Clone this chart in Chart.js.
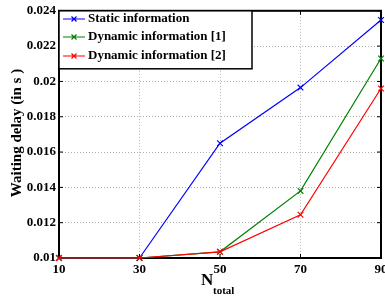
<!DOCTYPE html>
<html>
<head>
<meta charset="utf-8">
<script src="https://cdn.jsdelivr.net/npm/chart.js@4/dist/chart.umd.min.js"></script>
<style>
  html, body { margin: 0; padding: 0; background: #fff; overflow: hidden; }
  #wrap { width: 385px; height: 297px; overflow: hidden; }
</style>
</head>
<body>
<div id="wrap"><canvas id="grafica" width="420" height="297"></canvas></div>
<script>
// Datos
const nTotal = [10, 30, 50, 70, 90];
const etiquetas = ['Static information', 'Dynamic information [1]', 'Dynamic information [2]'];
const estatica = [0.01, 0.01, 0.0165, 0.01965, 0.02348];
const dinamica1 = [0.01, 0.01, 0.01035, 0.0138, 0.0213];
const dinamica2 = [0.01, 0.01, 0.01035, 0.01245, 0.0196];
const yTicks = [0.01, 0.012, 0.014, 0.016, 0.018, 0.02, 0.022, 0.024];
const yTickLabels = ['0.01', '0.012', '0.014', '0.016', '0.018', '0.02', '0.022', '0.024'];
const xTicks = [10, 30, 50, 70, 90];
const colores = ['#0000ff', '#008000', '#ff0000'];

const fuente = '"Liberation Serif", "Times New Roman", serif';

function serie(valores) {
  return nTotal.map((n, i) => ({ x: n, y: valores[i] }));
}

function crearDataset(i, valores) {
  return {
    label: etiquetas[i],
    data: serie(valores),
    borderColor: colores[i],
    backgroundColor: colores[i],
    borderWidth: 1.2,
    pointStyle: 'crossRot',
    pointRadius: 4,
    pointBorderWidth: 1.2,
    tension: 0,
    clip: false,
    order: 3 - i
  };
}

// Marco, marcas interiores y títulos de ejes
const marcoPlugin = {
  id: 'marco',
  beforeDatasetsDraw(chart) {
    const { ctx, chartArea: a, scales } = chart;
    ctx.save();
    ctx.strokeStyle = '#000';
    ctx.lineWidth = 1;
    xTicks.forEach(v => {
      const x = scales.x.getPixelForValue(v);
      ctx.beginPath();
      ctx.moveTo(x, a.bottom); ctx.lineTo(x, a.bottom - 4);
      ctx.moveTo(x, a.top); ctx.lineTo(x, a.top + 4);
      ctx.stroke();
    });
    yTicks.forEach(v => {
      const y = scales.y.getPixelForValue(v);
      ctx.beginPath();
      ctx.moveTo(a.left, y); ctx.lineTo(a.left + 4, y);
      ctx.moveTo(a.right, y); ctx.lineTo(a.right - 4, y);
      ctx.stroke();
    });
    ctx.lineWidth = 2;
    ctx.strokeRect(a.left, a.top, a.right - a.left, a.bottom - a.top);
    ctx.restore();
  },
  afterDraw(chart) {
    const { ctx, chartArea: a } = chart;
    ctx.save();
    ctx.fillStyle = '#000';
    // título eje y
    ctx.translate(17, 133);
    ctx.rotate(-Math.PI / 2);
    ctx.font = 'bold 15px ' + fuente;
    ctx.textAlign = 'center';
    ctx.textBaseline = 'middle';
    ctx.fillText('Waiting delay (in s )', 0, 0);
    ctx.restore();

    ctx.save();
    ctx.fillStyle = '#000';
    ctx.textBaseline = 'alphabetic';
    ctx.textAlign = 'left';
    ctx.font = 'bold 17px ' + fuente;
    ctx.fillText('N', 201, 285);
    ctx.font = 'bold 11px ' + fuente;
    ctx.fillText('total', 213, 294);

    // leyenda
    const lx = a.left, ly = a.top, lw = 193, lh = 58;
    ctx.fillStyle = '#fff';
    ctx.fillRect(lx, ly, lw, lh);
    ctx.strokeStyle = '#000';
    ctx.lineWidth = 1.5;
    ctx.strokeRect(lx, ly, lw, lh);
    const filas = [19, 37, 56];
    chart.data.datasets.forEach((ds, i) => {
      const y = filas[i];
      ctx.strokeStyle = ds.borderColor;
      ctx.lineWidth = 1.2;
      ctx.beginPath();
      ctx.moveTo(63, y); ctx.lineTo(85, y);
      ctx.moveTo(71.5, y - 2.5); ctx.lineTo(76.5, y + 2.5);
      ctx.moveTo(71.5, y + 2.5); ctx.lineTo(76.5, y - 2.5);
      ctx.stroke();
      ctx.fillStyle = '#000';
      ctx.font = 'bold 13px ' + fuente;
      ctx.textBaseline = 'middle';
      ctx.fillText(ds.label, 88, y);
    });
    ctx.restore();
  }
};

const ctx = document.getElementById('grafica').getContext('2d');
new Chart(ctx, {
  type: 'line',
  data: {
    datasets: [
      crearDataset(0, estatica),
      crearDataset(1, dinamica1),
      crearDataset(2, dinamica2)
    ]
  },
  options: {
    responsive: false,
    animation: false,
    layout: { padding: { top: 9, right: 39, left: 0, bottom: 0 } },
    plugins: { legend: { display: false }, tooltip: { enabled: false } },
    scales: {
      x: {
        type: 'linear',
        min: 10,
        max: 90,
        afterBuildTicks: scale => { scale.ticks = xTicks.map(v => ({ value: v })); },
        afterFit: scale => { scale.height = 39; },
        ticks: {
          color: '#000',
          padding: 4,
          maxRotation: 0,
          font: { family: fuente, size: 13, weight: 'bold' }
        },
        grid: { color: '#b0b0b0', lineWidth: 1, drawTicks: false },
        border: { display: false, dash: [1, 2] }
      },
      y: {
        type: 'linear',
        min: 0.01,
        max: 0.024,
        afterBuildTicks: scale => { scale.ticks = yTicks.map(v => ({ value: v })); },
        afterFit: scale => { scale.width = 59; },
        ticks: {
          color: '#000',
          padding: 3,
          font: { family: fuente, size: 13, weight: 'bold' },
          callback: (v, i) => yTickLabels[i]
        },
        grid: { color: '#b0b0b0', lineWidth: 1, drawTicks: false },
        border: { display: false, dash: [1, 2] }
      }
    }
  },
  plugins: [marcoPlugin]
});
</script>
</body>
</html>
